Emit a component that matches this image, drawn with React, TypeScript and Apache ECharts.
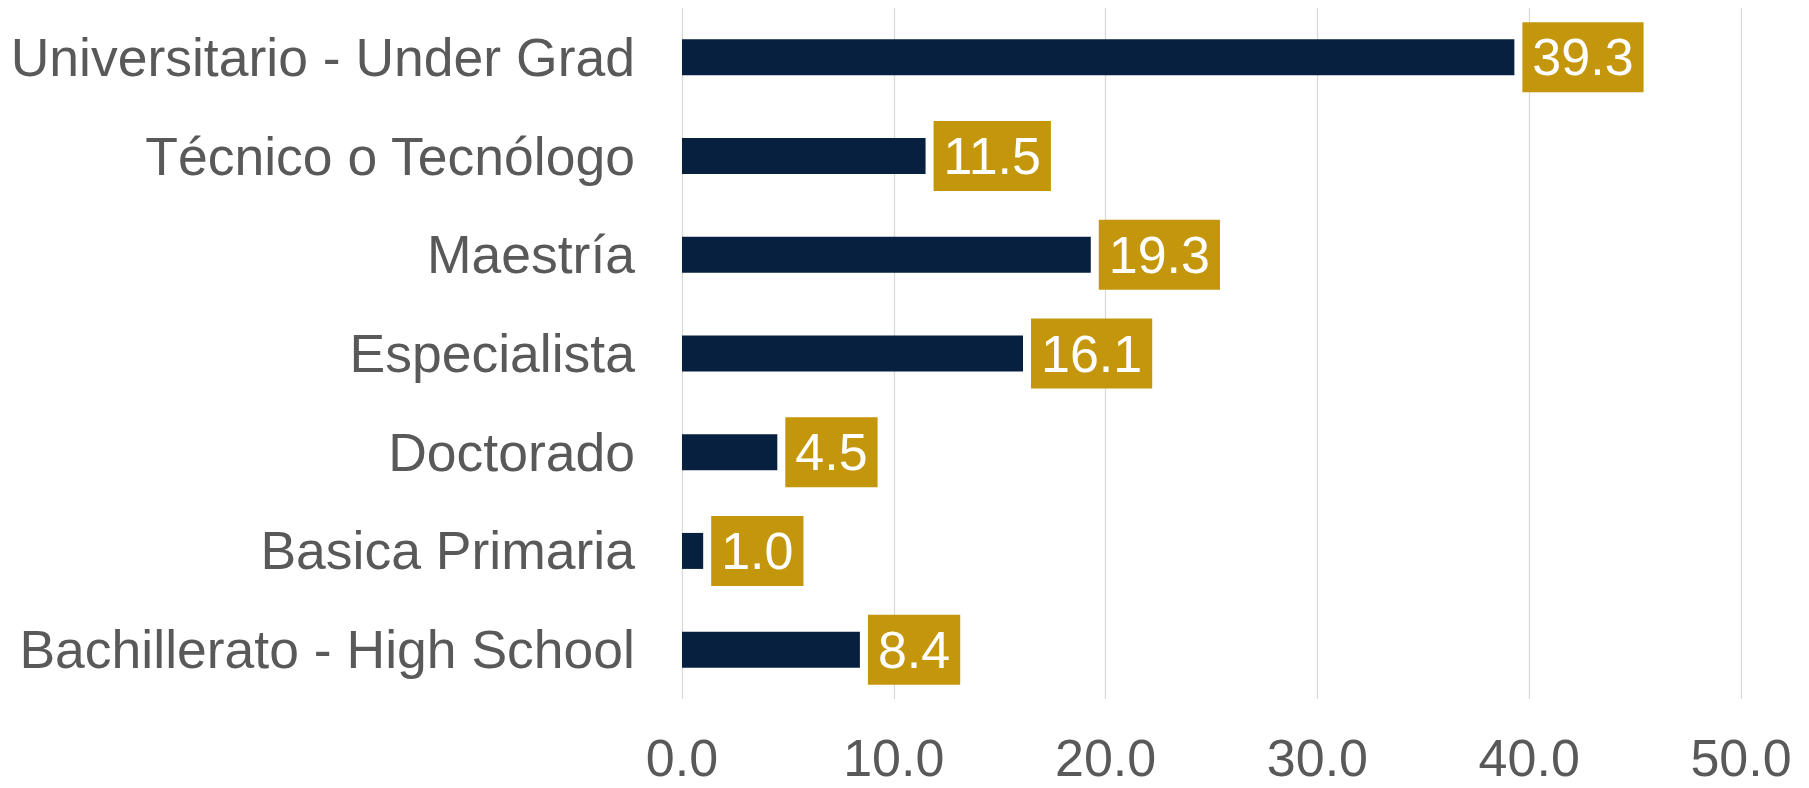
import React, { useEffect, useRef } from "react";
import * as echarts from "echarts";

const categories = [
  "Universitario - Under Grad",
  "Técnico o Tecnólogo",
  "Maestría",
  "Especialista",
  "Doctorado",
  "Basica Primaria",
  "Bachillerato - High School",
];
const values = [39.3, 11.5, 19.3, 16.1, 4.5, 1.0, 8.4];
const xTicks = { min: 0, max: 50, interval: 10 };

const FONT = "'Liberation Sans', Arial, sans-serif";

export default function App() {
  const ref = useRef<HTMLDivElement>(null);
  useEffect(() => {
    if (!ref.current) return;
    const chart = echarts.init(ref.current, undefined, { renderer: "svg" });
    chart.setOption({
      animation: false,
      backgroundColor: "#ffffff",
      grid: { left: 682, right: 68, top: 8, bottom: 89, containLabel: false },
      xAxis: {
        type: "value",
        min: xTicks.min,
        max: xTicks.max,
        interval: xTicks.interval,
        axisLine: { show: false },
        axisTick: { show: false },
        splitLine: { show: true, lineStyle: { color: "#D9D9D9", width: 1.3 } },
        axisLabel: {
          formatter: (v: number) => v.toFixed(1),
          color: "#595959",
          fontSize: 52,
          lineHeight: 40,
          fontFamily: FONT,
          margin: 39,
        },
      },
      yAxis: {
        type: "category",
        inverse: true,
        data: categories,
        axisLine: { show: false },
        axisTick: { show: false },
        axisLabel: {
          color: "#595959",
          fontSize: 53.5,
          fontFamily: FONT,
          margin: 47,
        },
      },
      series: [
        {
          type: "bar",
          data: values,
          barWidth: 36,
          itemStyle: { color: "#08203F" },
          label: {
            show: true,
            position: "right",
            distance: 8,
            formatter: (p: any) => Number(p.value).toFixed(1),
            color: "#ffffff",
            fontSize: 52,
            lineHeight: 52,
            fontFamily: FONT,
            backgroundColor: "#C4960C",
            padding: [9, 10, 9, 10],
          },
        },
      ],
    });
    return () => chart.dispose();
  }, []);
  return (
    <div
      ref={ref}
      style={{ position: "fixed", left: 0, top: 0, width: 1809, height: 788 }}
    />
  );
}
